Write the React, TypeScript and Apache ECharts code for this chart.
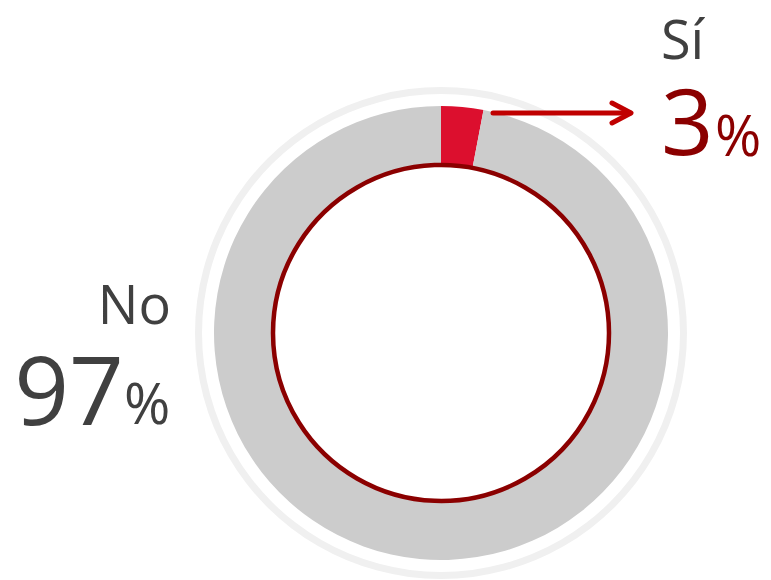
import React, { useEffect, useRef } from "react";
import * as echarts from "echarts";

const categories = ["Sí", "No"];
const values = [3, 97];
const sliceColors = ["#DC0F2E", "#CCCCCC"];

export default function App() {
  const ref = useRef<HTMLDivElement>(null);
  useEffect(() => {
    if (!ref.current) return;
    const chart = echarts.init(ref.current, null, { renderer: "svg" });
    const total = values.reduce((a, b) => a + b, 0);
    const pct = values.map((v) => Math.round((v / total) * 100));
    const font = "'Open Sans', 'Noto Sans', sans-serif";
    const cx = 441;
    const cy = 333;
    chart.setOption({
      animation: false,
      series: [
        {
          type: "pie",
          silent: true,
          center: [cx, cy],
          radius: [239, 246],
          label: { show: false },
          labelLine: { show: false },
          itemStyle: { color: "#F0F0F0", borderWidth: 0 },
          data: [{ name: "ring", value: 1 }],
        },
        {
          type: "pie",
          silent: true,
          center: [cx, cy],
          radius: [166, 227],
          startAngle: 90,
          clockwise: true,
          label: { show: false },
          labelLine: { show: false },
          itemStyle: { borderWidth: 0 },
          data: categories.map((c, i) => ({
            name: c,
            value: values[i],
            itemStyle: { color: sliceColors[i] },
          })),
        },
      ],
      graphic: [
        {
          type: "circle",
          shape: { cx, cy, r: 168 },
          style: { fill: "#FFFFFF", stroke: "#8B0000", lineWidth: 4.5 },
          z: 10,
        },
        {
          type: "line",
          shape: { x1: 493, y1: 113, x2: 630, y2: 113 },
          style: { stroke: "#C00000", lineWidth: 5, lineCap: "round" },
          z: 10,
        },
        {
          type: "polyline",
          shape: { points: [[612, 103], [631, 113], [612, 123]] },
          style: { stroke: "#C00000", lineWidth: 5, lineCap: "round", lineJoin: "round", fill: null },
          z: 10,
        },
        {
          type: "text",
          x: 661,
          y: 38,
          style: { text: categories[0], font: `54px ${font}`, fill: "#404040", align: "left", verticalAlign: "middle", lineHeight: 50 },
          z: 10,
        },
        {
          type: "text",
          x: 661,
          y: 119,
          style: { text: String(pct[0]), font: `92px ${font}`, fill: "#8B0000", align: "left", verticalAlign: "middle", lineHeight: 70 },
          z: 10,
        },
        {
          type: "text",
          x: 715,
          y: 134,
          style: { text: "%", font: `56px ${font}`, fill: "#8B0000", align: "left", verticalAlign: "middle", lineHeight: 45 },
          z: 10,
        },
        {
          type: "text",
          x: 171,
          y: 303,
          style: { text: categories[1], font: `54px ${font}`, fill: "#404040", align: "right", verticalAlign: "middle", lineHeight: 50 },
          z: 10,
        },
        {
          type: "text",
          x: 124,
          y: 387,
          style: { text: String(pct[1]), font: `96px ${font}`, fill: "#404040", align: "right", verticalAlign: "middle", lineHeight: 75 },
          z: 10,
        },
        {
          type: "text",
          x: 124,
          y: 402,
          style: { text: "%", font: `56px ${font}`, fill: "#404040", align: "left", verticalAlign: "middle", lineHeight: 45 },
          z: 10,
        },
      ],
    });
    return () => chart.dispose();
  }, []);
  return <div ref={ref} style={{ width: 771, height: 580, position: "absolute", left: 0, top: 0 }} />;
}
